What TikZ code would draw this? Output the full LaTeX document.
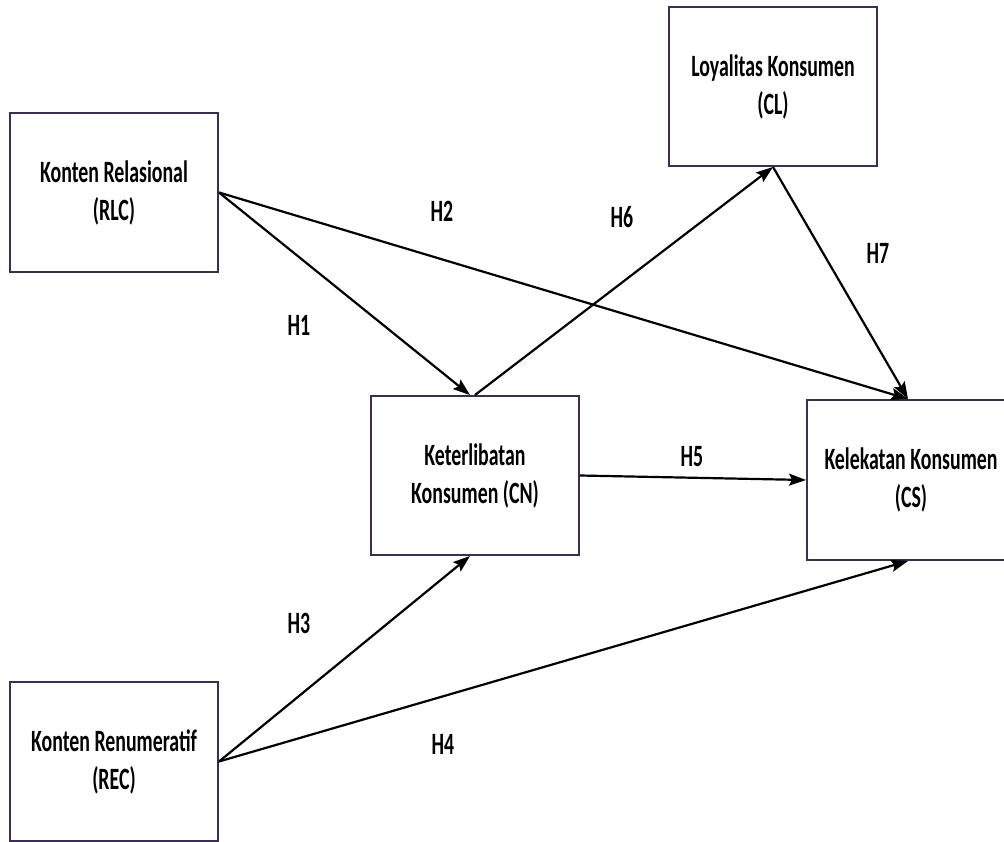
\documentclass[tikz,border=0pt]{standalone}
\usepackage{fontspec}
\setmainfont[FakeStretch=0.64]{Carlito}
\usetikzlibrary{arrows.meta}
\definecolor{boxline}{RGB}{60,45,85}
\tikzset{
  box/.style={draw=boxline, line width=2pt, rectangle, inner sep=0pt,
    minimum width=208pt, minimum height=159pt, align=center,
    font=\fontsize{31}{38}\selectfont\bfseries},
  conn/.style={draw=black, line width=2.2pt, -{Stealth[length=17pt,width=12pt,inset=3pt]}},
  hlab/.style={font=\fontsize{31}{38}\selectfont\bfseries, inner sep=0pt}
}
\begin{document}
\begin{tikzpicture}[x=1pt,y=-1pt]
\useasboundingbox[fill=white] (0,0) rectangle (1004,841);
\begin{scope}
\clip (0,0) rectangle (1004,841);
\node[box] (rlc) at (114,192.5) {Konten Relasional\\(RLC)};
\node[box] (cl) at (773,86.5) {Loyalitas Konsumen\\(CL)};
\node[box] (cn) at (475,475.5) {Keterlibatan\\Konsumen (CN)};
\node[box, minimum height=160pt] (cs) at (911,480) {Kelekatan Konsumen\\(CS)};
\node[box] (rec) at (114,761.5) {Konten Renumeratif\\(REC)};

\draw[conn] (rlc.east) -- ([xshift=-5pt]cn.north);
\draw[conn] (rlc.east) -- ([xshift=-3pt]cs.north);
\draw[conn] (cn.north) -- (cl.south);
\draw[conn] (cl.south) -- ([xshift=-3pt]cs.north);
\draw[conn] (cn.east) -- (cs.west);
\draw[conn] (rec.east) -- ([xshift=-5pt]cn.south);
\draw[conn] (rec.east) -- ([xshift=-3pt]cs.south);

\node[hlab] (h1) at (299,325) {H1};
\node[hlab] (h2) at (442,211) {H2};
\node[hlab] (h3) at (299,623) {H3};
\node[hlab] (h4) at (443,744) {H4};
\node[hlab] (h5) at (692,457) {H5};
\node[hlab] (h6) at (622,217) {H6};
\node[hlab] (h7) at (878,253) {H7};
\end{scope}
\end{tikzpicture}
\end{document}
